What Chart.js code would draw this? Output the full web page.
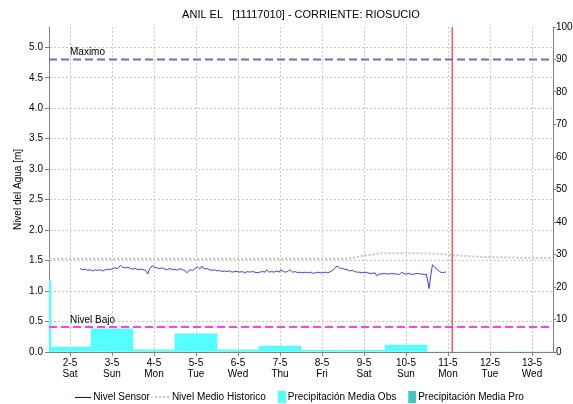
<!DOCTYPE html>
<html>
<head>
<meta charset="utf-8">
<title>ANIL EL - RIOSUCIO</title>
<script src="https://cdn.jsdelivr.net/npm/chart.js@4.4.1/dist/chart.umd.min.js"></script>
<style>
  html, body { margin: 0; padding: 0; background: #fff; }
  #grafico { display: block; }
</style>
</head>
<body>
<canvas id="grafico" width="573" height="404"></canvas>
<script>
// dias del eje x (dia de mayo)
var diasTicks = [2, 3, 4, 5, 6, 7, 8, 9, 10, 11, 12, 13];
var diasLabels = ['2-5', '3-5', '4-5', '5-5', '6-5', '7-5', '8-5', '9-5', '10-5', '11-5', '12-5', '13-5'];
var diasSemana = ['Sat', 'Sun', 'Mon', 'Tue', 'Wed', 'Thu', 'Fri', 'Sat', 'Sun', 'Mon', 'Tue', 'Wed'];

// nivel sensor: tiempo (dia decimal) y nivel [m]
var sensorTiempo = [
  2.24, 2.30, 2.36, 2.42, 2.48, 2.54, 2.60, 2.66, 2.72, 2.78, 2.84, 2.90, 2.96,
  3.02, 3.08, 3.14, 3.20, 3.26, 3.32, 3.38, 3.44, 3.50, 3.56, 3.62, 3.68, 3.74, 3.80, 3.85, 3.90, 3.96,
  4.02, 4.08, 4.14, 4.20, 4.26, 4.32, 4.38, 4.44, 4.50, 4.56, 4.62, 4.68, 4.74, 4.79, 4.85, 4.92, 4.98,
  5.03, 5.09, 5.14, 5.20, 5.26, 5.32, 5.38, 5.44, 5.50, 5.56, 5.62, 5.68, 5.74, 5.80, 5.86, 5.92, 5.98,
  6.04, 6.10, 6.16, 6.22, 6.28, 6.34, 6.40, 6.46, 6.52, 6.58, 6.64, 6.68, 6.74, 6.80, 6.86, 6.92, 6.98,
  7.02, 7.08, 7.14, 7.20, 7.24, 7.30, 7.36, 7.42, 7.48, 7.54, 7.60, 7.66, 7.72, 7.78, 7.84, 7.90, 7.96,
  8.02, 8.08, 8.14, 8.20, 8.26, 8.32, 8.36, 8.42, 8.48, 8.54, 8.60, 8.66, 8.72, 8.78, 8.84, 8.90, 8.96,
  9.02, 9.08, 9.14, 9.20, 9.26, 9.30, 9.36, 9.42, 9.48, 9.54, 9.60, 9.66, 9.72, 9.78, 9.84, 9.90, 9.96,
  10.02, 10.08, 10.14, 10.20, 10.26, 10.32, 10.38, 10.44, 10.48, 10.51, 10.55, 10.59, 10.63, 10.68,
  10.74, 10.80, 10.86, 10.92, 10.95
];
var sensorNivel = [
  1.37, 1.35, 1.36, 1.34, 1.35, 1.33, 1.35, 1.34, 1.35, 1.33, 1.35, 1.36, 1.35,
  1.37, 1.38, 1.37, 1.42, 1.39, 1.38, 1.39, 1.37, 1.36, 1.37, 1.35, 1.36, 1.35, 1.34, 1.28, 1.37, 1.42,
  1.39, 1.38, 1.37, 1.38, 1.36, 1.35, 1.37, 1.35, 1.36, 1.34, 1.37, 1.35, 1.33, 1.30, 1.35, 1.34, 1.37,
  1.40, 1.36, 1.41, 1.36, 1.37, 1.35, 1.34, 1.35, 1.33, 1.34, 1.32, 1.33, 1.32, 1.33, 1.31, 1.32, 1.32,
  1.31, 1.32, 1.30, 1.32, 1.31, 1.32, 1.31, 1.30, 1.31, 1.32, 1.31, 1.35, 1.31, 1.32, 1.31, 1.33, 1.31,
  1.35, 1.32, 1.31, 1.33, 1.35, 1.31, 1.32, 1.30, 1.31, 1.30, 1.31, 1.30, 1.31, 1.29, 1.30, 1.31, 1.30,
  1.30, 1.31, 1.30, 1.32, 1.34, 1.39, 1.41, 1.38, 1.37, 1.36, 1.35, 1.33, 1.34, 1.32, 1.31, 1.31, 1.30,
  1.31, 1.30, 1.29, 1.29, 1.30, 1.25, 1.28, 1.28, 1.29, 1.28, 1.28, 1.29, 1.28, 1.28, 1.27, 1.31, 1.28,
  1.28, 1.29, 1.27, 1.28, 1.29, 1.28, 1.28, 1.27, 1.28, 1.20, 1.04, 1.26, 1.43, 1.40,
  1.35, 1.32, 1.30, 1.31, 1.31
];

// nivel medio historico [m]
var historicoTiempo = [1.5, 2, 3, 4, 5, 6, 7, 8, 8.6, 9.0, 9.4, 9.8, 10.3, 10.8, 11.3, 11.8, 12.5, 13.5];
var historicoNivel = [1.53, 1.53, 1.53, 1.53, 1.53, 1.53, 1.53, 1.53, 1.53, 1.58, 1.62, 1.62, 1.62, 1.61, 1.58, 1.56, 1.55, 1.54];

// precipitacion media [mm]
var precipDias = [1.05, 2, 3, 4, 5, 6, 7, 8, 9, 10, 11, 12, 13];
var precipObs = [22, 1.5, 7.1, 0.7, 5.6, 0.7, 1.85, 0.5, 0.5, 2.1, 0, 0, 0];
var precipPro = [];

// umbrales y hora actual
var nivelMaximo = 4.8;
var nivelBajo = 0.41;
var horaActual = 11.1;

var fuente = '"Liberation Sans", Arial, sans-serif';

function puntos(xs, ys) {
  return xs.map(function (x, i) { return { x: x, y: ys[i] }; });
}

function icono(tipo, color) {
  // simbolo de la leyenda, pegado al borde derecho del lienzo
  var c = document.createElement('canvas');
  c.width = 16;
  c.height = 12;
  var g = c.getContext('2d');
  if (tipo === 'linea') {
    g.strokeStyle = color;
    g.lineWidth = 1;
    g.beginPath(); g.moveTo(0, 6.5); g.lineTo(16, 6.5); g.stroke();
  } else if (tipo === 'puntos') {
    g.fillStyle = color;
    for (var i = 1; i < 16; i += 4) g.fillRect(i, 5, 2, 2);
  } else {
    g.fillStyle = color;
    g.fillRect(8, 0, 8, 12);
  }
  return c;
}

var etiquetasUmbral = {
  id: 'etiquetasUmbral',
  afterDatasetsDraw: function (chart) {
    var ctx = chart.ctx;
    var y = chart.scales.y;
    var x0 = chart.chartArea.left + 21;
    ctx.save();
    ctx.font = '10px ' + fuente;
    ctx.fillStyle = '#000';
    ctx.textBaseline = 'bottom';
    ctx.fillText('Maximo', x0, y.getPixelForValue(nivelMaximo) - 2);
    ctx.fillText('Nivel Bajo', x0, y.getPixelForValue(nivelBajo) - 2);
    ctx.restore();
  }
};

var ctx = document.getElementById('grafico');
var grafico = new Chart(ctx, {
  data: {
    datasets: [
      {
        type: 'line', label: 'Nivel Sensor', data: puntos(sensorTiempo, sensorNivel),
        borderColor: '#3c3cff', borderWidth: 1, pointRadius: 0, tension: 0, yAxisID: 'y', order: 2,
        legendIcon: icono('linea', '#0000cc')
      },
      {
        type: 'line', label: 'Nivel Medio Historico', data: puntos(historicoTiempo, historicoNivel),
        borderColor: '#c4c4c4', borderWidth: 2, borderDash: [2, 2], pointRadius: 0, yAxisID: 'y', order: 3,
        legendIcon: icono('puntos', '#c4c4c4')
      },
      {
        type: 'bar', label: 'Precipitación Media Obs', data: puntos(precipDias, precipObs),
        backgroundColor: '#55ffff', borderWidth: 0, barThickness: 42, grouped: false, clip: 0,
        yAxisID: 'y1', order: 6, legendIcon: icono('caja', '#55ffff')
      },
      {
        type: 'bar', label: 'Precipitación Media Pro', data: precipPro,
        backgroundColor: '#40c8c8', borderWidth: 0, barThickness: 42, grouped: false, clip: 0,
        yAxisID: 'y1', order: 5, legendIcon: icono('caja', '#40c8c8')
      },
      {
        type: 'line', label: 'Maximo', data: [{ x: 1.5, y: nivelMaximo }, { x: 13.5, y: nivelMaximo }],
        borderColor: '#6677a8', borderWidth: 2, borderDash: [8, 4], pointRadius: 0, yAxisID: 'y', order: 4
      },
      {
        type: 'line', label: 'Nivel Bajo', data: [{ x: 1.5, y: nivelBajo }, { x: 13.5, y: nivelBajo }],
        borderColor: '#ff3cff', borderWidth: 2, borderDash: [8, 4], pointRadius: 0, yAxisID: 'y', order: 4
      },
      {
        type: 'line', label: 'Ahora', data: [{ x: horaActual, y: 0 }, { x: horaActual, y: 5.333 }],
        borderColor: '#ff3030', borderWidth: 1.2, pointRadius: 0, yAxisID: 'y', order: 1
      }
    ]
  },
  options: {
    responsive: false,
    animation: false,
    layout: { padding: { left: 0, right: 0, top: 0, bottom: -8 } },
    plugins: {
      tooltip: { enabled: false },
      title: {
        display: true,
        text: 'ANIL EL   [11117010] - CORRIENTE: RIOSUCIO',
        color: '#000',
        fullSize: false,
        font: { family: fuente, size: 11, weight: 'normal' },
        padding: { top: 8, bottom: 5.8 }
      },
      legend: {
        position: 'bottom',
        fullSize: false,
        labels: {
          color: '#000',
          font: { family: fuente, size: 10 },
          usePointStyle: true,
          pointStyleWidth: 10,
          padding: 7,
          generateLabels: function (chart) {
            return chart.data.datasets
              .map(function (ds, i) { return { ds: ds, i: i }; })
              .filter(function (o) { return o.ds.legendIcon; })
              .map(function (o) {
                return {
                  text: o.ds.label, datasetIndex: o.i, pointStyle: o.ds.legendIcon,
                  fillStyle: 'transparent', strokeStyle: 'transparent', lineWidth: 0, fontColor: '#000'
                };
              });
          }
        }
      }
    },
    scales: {
      x: {
        type: 'linear', min: 1.5, max: 13.5, offset: false,
        afterBuildTicks: function (s) { s.ticks = diasTicks.map(function (d) { return { value: d }; }); },
        afterFit: function (s) { s.height = 33; },
        ticks: {
          autoSkip: false, maxRotation: 0, color: '#000', padding: 2,
          font: { family: fuente, size: 10, lineHeight: 1.1 },
          callback: function (v) {
            var i = diasTicks.indexOf(v);
            return i < 0 ? '' : [diasLabels[i], diasSemana[i]];
          }
        },
        grid: { offset: false, color: '#c8c8c8', tickColor: '#808080', tickLength: 4 },
        border: { color: '#808080', dash: [2, 2] }
      },
      y: {
        position: 'left', min: 0, max: 5.333,
        afterBuildTicks: function (s) {
          s.ticks = s.ticks.filter(function (t) { return Math.abs(t.value * 2 - Math.round(t.value * 2)) < 1e-6; });
        },
        afterFit: function (s) { s.width = 49; },
        ticks: {
          stepSize: 0.5, color: '#000', padding: 2,
          font: { family: fuente, size: 10 },
          callback: function (v) { return v.toFixed(1); }
        },
        title: {
          display: true, text: 'Nivel del Agua [m]', color: '#000',
          font: { family: fuente, size: 10 }, padding: { top: 12, bottom: 0 }
        },
        grid: { color: '#c8c8c8', tickColor: '#808080', tickLength: 4 },
        border: { color: '#808080', dash: [2, 2] }
      },
      y1: {
        position: 'right', min: 0, max: 100,
        afterFit: function (s) { s.width = 20; },
        ticks: { stepSize: 10, color: '#000', padding: 0, font: { family: fuente, size: 10 } },
        grid: { drawOnChartArea: false, tickColor: '#808080', tickLength: 3 },
        border: { color: '#808080' }
      }
    }
  },
  plugins: [etiquetasUmbral]
});
</script>
</body>
</html>
